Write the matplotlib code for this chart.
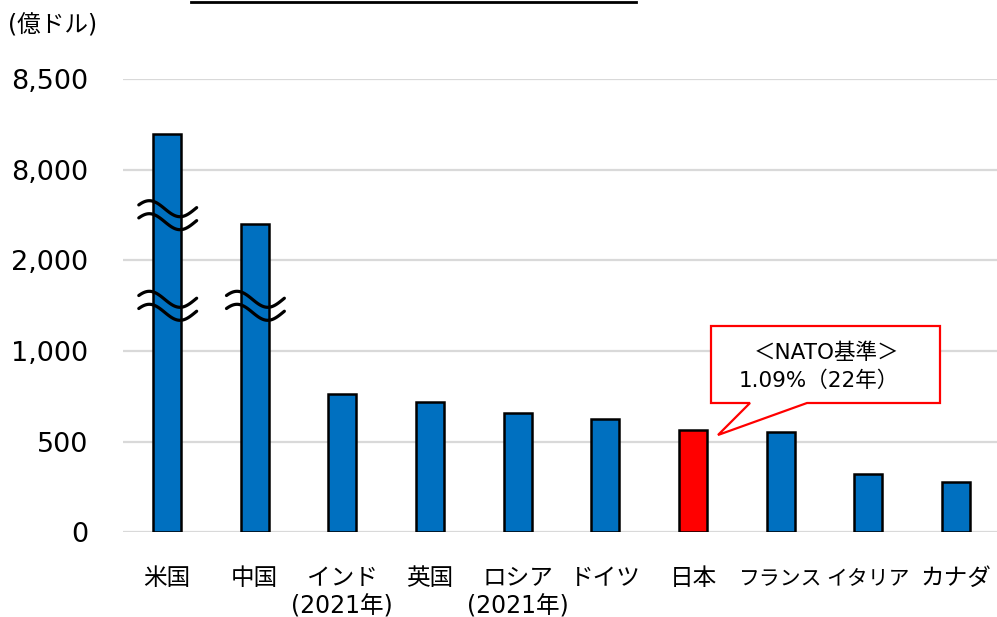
import numpy as np
import matplotlib
matplotlib.use("Agg")
import matplotlib.pyplot as plt
from matplotlib.patches import Polygon
from matplotlib.lines import Line2D
from matplotlib.transforms import blended_transform_factory, ScaledTranslation

plt.rcParams["font.family"] = ["DejaVu Sans", "Noto Sans CJK JP"]

# data (億ドル)
countries = ["米国", "中国", "インド\n(2021年)", "英国", "ロシア\n(2021年)",
             "ドイツ", "日本", "フランス", "イタリア", "カナダ"]
spending = [8200, 4400, 762, 717, 657, 624, 565, 553, 322, 278]
bar_colors = ["#0070C0"] * 6 + ["#FF0000"] + ["#0070C0"] * 3

# broken axis: ticks are equally spaced
tick_vals = [0, 500, 1000, 2000, 8000, 8500]
tick_labels = ["0", "500", "1,000", "2,000", "8,000", "8,500"]
tick_pos = np.arange(len(tick_vals))

# where the break marks go (in tick-step units) for each bar
breaks = {0: [2.5, 3.5], 1: [2.5]}


def fwd(v):
    return np.interp(v, tick_vals, tick_pos)


def inv(p):
    return np.interp(p, tick_pos, tick_vals)


W, H = 997, 617
fig = plt.figure(figsize=(W / 100, H / 100), dpi=100)
ax = fig.add_axes([123 / W, (H - 532.3) / H, 877 / W, 453 / H])
ax.set_yscale("function", functions=(fwd, inv))

x = np.arange(len(countries))
ax.bar(x, spending, width=0.32, color=bar_colors, edgecolor="black",
       linewidth=1.8, zorder=3)

ax.set_xlim(-0.5, len(countries) - 0.5)
ax.set_ylim(0, 8500)
ax.set_yticks(tick_vals)
ax.set_yticklabels(tick_labels)
ax.yaxis.set_minor_locator(matplotlib.ticker.NullLocator())
ax.grid(axis="y", color="#d9d9d9", linewidth=1.6, zorder=0)
ax.set_axisbelow(True)
for s in ax.spines.values():
    s.set_visible(False)
ax.tick_params(axis="y", length=0, pad=25, labelsize=19.5)
ax.set_xticks(x)
ax.set_xticklabels(countries, linespacing=1.25)
ax.tick_params(axis="x", length=0, pad=24, labelsize=17)
# long katakana names need a smaller size so they don't collide
for lab in ax.get_xticklabels():
    if len(lab.get_text()) >= 4 and "\n" not in lab.get_text():
        lab.set_fontsize(15)
        lab.set_transform(lab.get_transform() +
                          ScaledTranslation(0, -2.5 / 72, fig.dpi_scale_trans))

# wavy break marks
tr = blended_transform_factory(ax.transData, ax.transAxes)
n_steps = len(tick_vals) - 1
amp = 8 / 453
gap = 6.5 / 453
xs = np.linspace(-0.32, 0.34, 60)
for i, lst in breaks.items():
    for p in lst:
        yc = p / n_steps
        for off in (gap, -gap):
            ys = yc + off + amp * np.cos(2 * np.pi * (xs + 0.2) / 0.7)
            ax.plot(i + xs, ys, color="black", linewidth=2.3, transform=tr,
                    zorder=5, solid_capstyle="round", clip_on=False)

# unit label
fig.text(8 / W, 1 - 26 / H, "(億ドル)", fontsize=17, va="center", ha="left")

# callout for Japan
pts = [(711, 326), (940, 326), (940, 403), (807, 403), (718, 435),
       (750, 403), (711, 403)]
pts = [(px / W, 1 - py / H) for px, py in pts]
fig.patches.append(Polygon(pts, closed=True, facecolor="white",
                           edgecolor="#FF0000", linewidth=1.6,
                           transform=fig.transFigure, zorder=6))
fig.text(826 / W, 1 - 353 / H, "＜NATO基準＞", fontsize=15.5,
         ha="center", va="center", zorder=7)
fig.text(819 / W, 1 - 381 / H, "1.09%（22年）", fontsize=15.5,
         ha="center", va="center", zorder=7)

# underline of the (cropped) title
fig.lines.append(Line2D([191 / W, 636 / W], [1 - 2 / H, 1 - 2 / H],
                        color="black", linewidth=2, transform=fig.transFigure))

fig.savefig("out.png", dpi=100)
